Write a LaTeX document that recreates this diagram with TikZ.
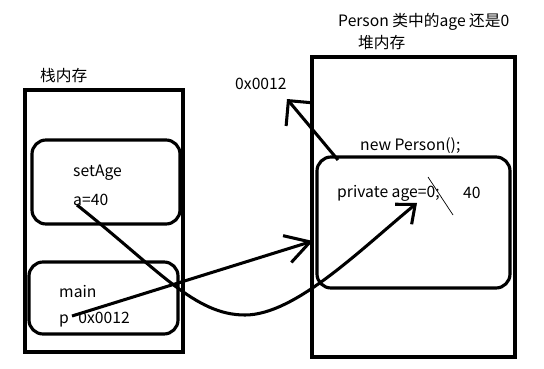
\documentclass[tikz,border=0pt]{standalone}
\usepackage{fontspec}
\setmainfont{Noto Sans CJK SC}
\usetikzlibrary{arrows.meta,positioning}

\begin{document}
\begin{tikzpicture}[
    x=0.03cm, y=-0.03cm,
    mem/.style={rectangle, draw, line width=2.7pt},
    frame/.style={rectangle, draw, line width=2.7pt, rounded corners=12pt},
    txt/.style={inner sep=0pt, anchor=west, font=\fontsize{13.4}{16}\selectfont},
    ptr/.style={line width=2.6pt}
]
\useasboundingbox (0,0) rectangle (544,368);

% Stack memory
\node[mem, minimum width=4.74cm, minimum height=7.86cm] (stack) at (104,221) {};
\node[txt] (stacklbl) at (40,76) {栈内存};
\node[frame, minimum width=4.44cm, minimum height=2.52cm] (setage) at (106,182) {};
\node[txt] (fname) at (73,173) {setAge};
\node[txt] (aval) at (73,200) {a=40};
\node[frame, minimum width=4.47cm, minimum height=2.16cm] (mainf) at (103.5,298) {};
\node[txt] (mname) at (59,292) {main};
\node[txt] (pval) at (59,320) {p\hspace{8pt}0x0012};

% Heap memory
\node[txt] (note) at (338,22) {Person 类中的age 还是0};
\node[txt] (heaplbl) at (358,43) {堆内存};
\node[mem, minimum width=6.09cm, minimum height=9cm] (heap) at (413.5,207) {};
\node[txt] (newp) at (360,146) {new Person();};
\node[frame, minimum width=5.79cm, minimum height=3.93cm] (obj) at (413.5,222.5) {};
\node[txt] (field) at (337,193) {private age=0;};
\node[txt] (newval) at (463,193) {40};
\node[txt] (addr) at (235,84) {0x0012};

% Pointers
\coordinate (objref) at (338,160);
\coordinate (addrtip) at (287,99);
\coordinate (pref) at (72,316);
\coordinate (objtip) at (313,241);
\coordinate (aref) at (77,205);
\coordinate (fieldtip) at (417,203);

\draw[ptr, -{Straight Barb[length=0.54cm, width=1.08cm]}] (objref) -- (addrtip);
\draw[ptr, -{Straight Barb[length=0.72cm, width=0.84cm]}] (pref) -- (objtip);
\draw[ptr, -{Straight Barb[length=0.46cm, width=0.78cm]}] (aref)
    .. controls (160,271) and (195,315) .. (245,315)
    .. controls (295,315) and (360,250) .. (fieldtip);

% old value crossed out
\draw[line width=0.6pt] (428,177) -- (453,215);

\end{tikzpicture}
\end{document}
